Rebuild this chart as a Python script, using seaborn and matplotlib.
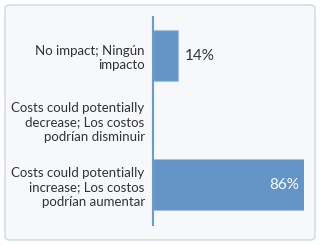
import matplotlib
matplotlib.use("Agg")
import matplotlib.pyplot as plt
from matplotlib.patches import FancyBboxPatch
import seaborn as sns
import pandas as pd

categories = [
    "No impact; Ningún\nimpacto",
    "Costs could potentially\ndecrease; Los costos\npodrían disminuir",
    "Costs could potentially\nincrease; Los costos\npodrían aumentar",
]
values = [14, 0, 86]
value_labels = ["14%", "", "86%"]

sns.set_theme(style="white")
plt.rcParams["font.family"] = ["Lato", "DejaVu Sans"]

df = pd.DataFrame({"category": categories, "value": values})

fig = plt.figure(figsize=(3.2, 2.45), dpi=100)
fig.patch.set_facecolor("white")

# rounded panel background
panel = FancyBboxPatch((5 / 320, 5 / 245), 310 / 320, 235 / 245,
                       boxstyle="round,pad=0,rounding_size=0.015",
                       transform=fig.transFigure, facecolor="#f7f8fa",
                       edgecolor="#d3dde8", linewidth=1.2, zorder=-10)
fig.patches.append(panel)

ax = fig.add_axes([153 / 320, 20 / 245, 151 / 320, 208 / 245])
ax.set_facecolor("none")
ax.set_zorder(5)

sns.barplot(data=df, x="value", y="category", ax=ax, color="#6495c6",
            width=0.79, edgecolor="#a8c3df", linewidth=0.8, saturation=1)

ax.set_xlim(0, 86)
ax.set_ylim(2.62, -0.6)
ax.set_xlabel("")
ax.set_ylabel("")
ax.set_xticks([])
for s in ["top", "right", "bottom"]:
    ax.spines[s].set_visible(False)
ax.spines["left"].set_color("#6a9ad0")
ax.spines["left"].set_linewidth(1.5)

ax.tick_params(axis="y", length=0, pad=6)
for t in ax.get_yticklabels():
    t.set_fontsize(9.5)
    t.set_color("#333333")
    t.set_linespacing(1.25)
    t.set_horizontalalignment("right")

for i, (v, lab) in enumerate(zip(values, value_labels)):
    if not lab:
        continue
    if v > 50:
        ax.text(v - 3, i, lab, ha="right", va="center", color="white", fontsize=11)
    else:
        ax.text(v + 4, i, lab, ha="left", va="center", color="#333333", fontsize=11)

fig.savefig("out.png", dpi=100, facecolor=fig.get_facecolor())
